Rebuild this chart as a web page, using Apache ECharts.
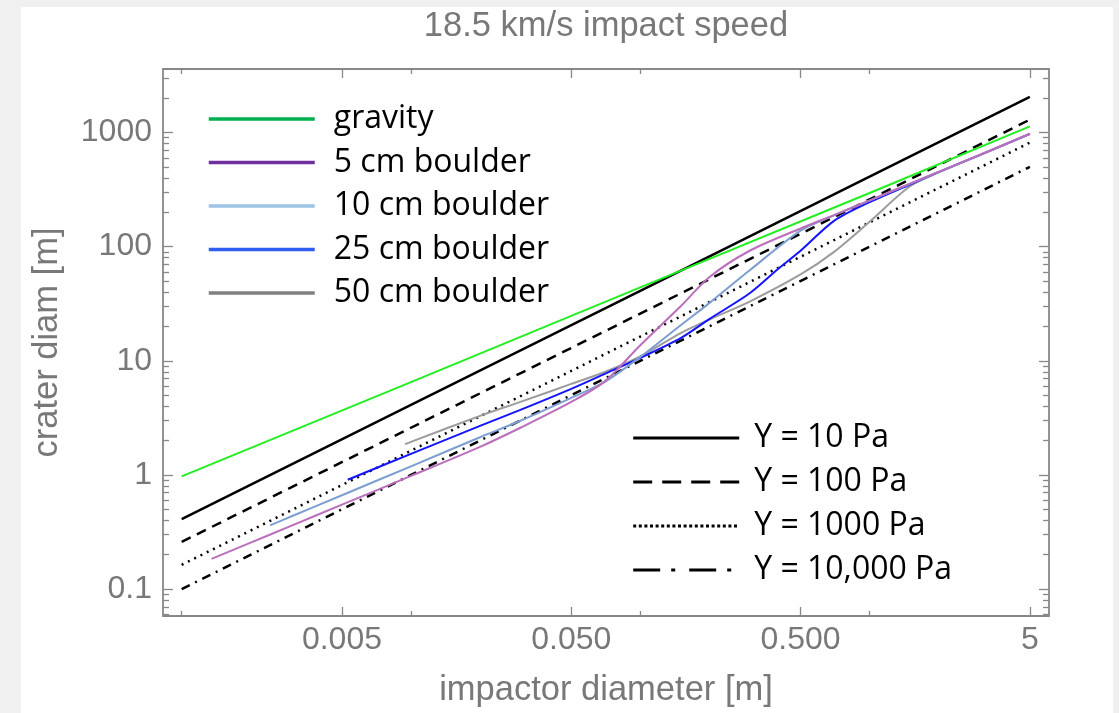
<!DOCTYPE html>
<html>
<head>
<meta charset="utf-8">
<title>18.5 km/s impact speed</title>
<script src="https://cdn.jsdelivr.net/npm/echarts@6.0.0/dist/echarts.min.js"></script>
<style>
  html, body { margin: 0; padding: 0; background: #f0f0f0; }
  #chart { position: absolute; left: 21px; top: 7px; width: 1092px; height: 706px; background: #fff; }
</style>
</head>
<body>
<div id="chart"></div>
<script>
// impactor diameter [m] vs crater diameter [m]
const lineX = [0.001, 0.01, 0.1, 1, 5];
const gravity = [0.97, 6.5, 44, 295, 1130];
const y10 = [0.41, 4.1, 41, 410, 2050];
const y100 = [0.259, 2.59, 25.9, 259, 1295];
const y1000 = [0.163, 1.63, 16.3, 163, 815];
const y10000 = [0.1, 1.0, 10, 100, 500];

const b5X = [0.00135, 0.002, 0.003, 0.005, 0.01, 0.02, 0.03, 0.05, 0.07, 0.1, 0.15, 0.2, 0.3, 0.5, 0.7, 1, 1.5, 2, 3, 5];
const b5Y = [0.184, 0.255, 0.358, 0.549, 0.98, 1.76, 2.59, 4.36, 6.6, 13.7, 30, 54, 92, 144, 189, 254, 356, 451, 631, 974];
const b10X = [0.00243, 0.003, 0.005, 0.01, 0.02, 0.03, 0.05, 0.07, 0.1, 0.15, 0.2, 0.3, 0.5, 0.7, 1, 1.5, 2, 3, 5];
const b10Y = [0.362, 0.432, 0.664, 1.19, 2.14, 2.98, 4.73, 6.53, 10.8, 20.5, 32, 62, 138, 188, 253, 355, 450, 630, 972];
const b25X = [0.0053, 0.01, 0.02, 0.03, 0.05, 0.07, 0.1, 0.15, 0.2, 0.3, 0.4, 0.5, 0.7, 1, 1.5, 2, 3, 5];
const b25Y = [0.908, 1.53, 2.69, 3.71, 5.67, 7.67, 10.6, 15.8, 23.2, 39, 64, 92, 168, 245, 350, 450, 630, 972];
const b50X = [0.00942, 0.01, 0.02, 0.03, 0.05, 0.07, 0.1, 0.15, 0.2, 0.3, 0.5, 0.7, 1, 1.5, 2, 3, 5];
const b50Y = [1.86, 1.95, 3.29, 4.36, 6.27, 7.98, 10.9, 17.5, 23, 33, 57, 90, 165, 338, 447, 629, 970];

const xTicks = [0.005, 0.05, 0.5, 5];
const xTickLabels = ['0.005', '0.050', '0.500', '5'];
const xMinorTicks = [0.001, 0.01, 0.1, 1];
const yTicks = [0.1, 1, 10, 100, 1000];
const yTickLabels = ['0.1', '1', '10', '100', '1000'];
const yMinorSteps = [2, 3, 4, 5, 6, 7, 8, 9];

// plot range (log10 of metres)
const X_MIN = Math.log10(0.000829), X_MAX = Math.log10(6.06);
const Y_MIN = Math.log10(0.0581), Y_MAX = Math.log10(3597);

const labelGray = '#787878';
const frameGray = '#888888';

const yMinorTicks = [];
for (let d = -2; d <= 3; d++) {
  yMinorSteps.forEach(m => {
    const v = d + Math.log10(m);
    if (v > Y_MIN && v < Y_MAX) yMinorTicks.push(Math.pow(10, v));
  });
}

function pairs(xs, ys) {
  return xs.map((x, i) => [Math.log10(x), Math.log10(ys[i])]);
}

function pickLabel(v, ticks, labels) {
  let best = 0;
  ticks.forEach((t, i) => {
    if (Math.abs(Math.log10(t) - v) < Math.abs(Math.log10(ticks[best]) - v)) best = i;
  });
  return labels[best];
}

function axis(kind, position, ticks, len, extra) {
  const isX = kind === 'x';
  return Object.assign({
    type: 'value',
    position: position,
    gridIndex: 0,
    min: isX ? X_MIN : Y_MIN,
    max: isX ? X_MAX : Y_MAX,
    axisLine: { show: false, onZero: false },
    splitLine: { show: false },
    axisTick: {
      show: true,
      inside: true,
      length: len,
      customValues: ticks.map(t => Math.log10(t)),
      lineStyle: { color: frameGray, width: 1.3 }
    },
    axisLabel: { show: false }
  }, extra || {});
}

const tickFont = { color: labelGray, fontFamily: 'Liberation Sans', fontSize: 32 };
const nameFont = { color: labelGray, fontFamily: 'Liberation Sans', fontSize: 34.5 };

const chart = echarts.init(document.getElementById('chart'));

chart.setOption({
  animation: false,
  backgroundColor: '#ffffff',
  title: {
    text: '18.5 km/s impact speed',
    left: 585,
    top: 2,
    padding: 0,
    textAlign: 'center',
    textStyle: Object.assign({ fontWeight: 'normal' }, nameFont)
  },
  grid: {
    left: 142,
    top: 62,
    width: 886,
    height: 547,
    containLabel: false,
    outerBoundsMode: 'none',
    show: true,
    borderColor: frameGray,
    borderWidth: 1.8,
    backgroundColor: 'transparent'
  },
  xAxis: [
    axis('x', 'bottom', xTicks, 9, {
      name: 'impactor diameter [m]',
      nameLocation: 'middle',
      nameGap: 57,
      nameTextStyle: nameFont,
      axisLabel: Object.assign({
        show: true,
        margin: 8,
        customValues: xTicks.map(t => Math.log10(t)),
        formatter: v => pickLabel(v, xTicks, xTickLabels)
      }, tickFont)
    }),
    axis('x', 'bottom', xMinorTicks, 5),
    axis('x', 'top', xTicks, 9),
    axis('x', 'top', xMinorTicks, 5)
  ],
  yAxis: [
    axis('y', 'left', yTicks, 10, {
      name: 'crater diam [m]',
      nameLocation: 'middle',
      nameGap: 98,
      nameTextStyle: nameFont,
      axisLabel: Object.assign({
        show: true,
        margin: 11,
        customValues: yTicks.map(t => Math.log10(t)),
        formatter: v => pickLabel(v, yTicks, yTickLabels)
      }, tickFont)
    }),
    axis('y', 'left', yMinorTicks, 6),
    axis('y', 'right', yTicks, 10),
    axis('y', 'right', yMinorTicks, 6)
  ],
  legend: [
    {
      orient: 'vertical',
      left: 186,
      top: 96,
      padding: 0,
      itemWidth: 106,
      itemHeight: 4,
      itemGap: 11.5,
      selectedMode: false,
      itemStyle: { opacity: 0 },
      textStyle: { fontFamily: 'Open Sans', fontSize: 32, color: '#000', lineHeight: 32, padding: [0, 0, 0, 14] },
      data: [
        { name: 'gravity', lineStyle: { color: '#00b050', width: 3.5, type: 'solid' } },
        { name: '5 cm boulder', lineStyle: { color: '#7030a0', width: 3.5, type: 'solid' } },
        { name: '10 cm boulder', lineStyle: { color: '#9dc3e6', width: 3.5, type: 'solid' } },
        { name: '25 cm boulder', lineStyle: { color: '#2f5df0', width: 3.5, type: 'solid' } },
        { name: '50 cm boulder', lineStyle: { color: '#7f7f7f', width: 3.5, type: 'solid' } }
      ]
    },
    {
      orient: 'vertical',
      left: 610.7,
      top: 415,
      padding: 0,
      itemWidth: 106,
      itemHeight: 4,
      itemGap: 12,
      selectedMode: false,
      itemStyle: { opacity: 0 },
      textStyle: { fontFamily: 'Open Sans', fontSize: 32, color: '#000', lineHeight: 32, padding: [0, 0, 0, 10] },
      data: [
        { name: 'Y = 10 Pa', lineStyle: { color: '#000', width: 3, type: 'solid' } },
        { name: 'Y = 100 Pa', lineStyle: { color: '#000', width: 3, type: [19, 10] } },
        { name: 'Y = 1000 Pa', lineStyle: { color: '#000', width: 3, type: [3, 2.6] } },
        { name: 'Y = 10,000 Pa', lineStyle: { color: '#000', width: 3, type: [27, 11, 4, 14] } }
      ]
    }
  ],
  series: [
    { name: 'Y = 10,000 Pa', type: 'line', data: pairs(lineX, y10000), symbol: 'none', itemStyle: { color: '#000' }, lineStyle: { color: '#000', width: 2.5, type: [9, 6, 2, 6] } },
    { name: 'Y = 1000 Pa', type: 'line', data: pairs(lineX, y1000), symbol: 'none', itemStyle: { color: '#000' }, lineStyle: { color: '#000', width: 2.5, type: [2, 5] } },
    { name: 'Y = 100 Pa', type: 'line', data: pairs(lineX, y100), symbol: 'none', itemStyle: { color: '#000' }, lineStyle: { color: '#000', width: 2.5, type: [10, 7] } },
    { name: 'Y = 10 Pa', type: 'line', data: pairs(lineX, y10), symbol: 'none', itemStyle: { color: '#000' }, lineStyle: { color: '#000', width: 2.5 } },
    { name: '50 cm boulder', type: 'line', data: pairs(b50X, b50Y), symbol: 'none', smooth: 0.3, itemStyle: { color: '#9c9c9c' }, lineStyle: { color: '#9c9c9c', width: 2 } },
    { name: '25 cm boulder', type: 'line', data: pairs(b25X, b25Y), symbol: 'none', smooth: 0.3, itemStyle: { color: '#1414ff' }, lineStyle: { color: '#1414ff', width: 2 } },
    { name: '10 cm boulder', type: 'line', data: pairs(b10X, b10Y), symbol: 'none', smooth: 0.3, itemStyle: { color: '#7c9ed0' }, lineStyle: { color: '#7c9ed0', width: 2 } },
    { name: '5 cm boulder', type: 'line', data: pairs(b5X, b5Y), symbol: 'none', smooth: 0.3, itemStyle: { color: '#bb6ebb' }, lineStyle: { color: '#bb6ebb', width: 2 } },
    { name: 'gravity', type: 'line', data: pairs(lineX, gravity), symbol: 'none', itemStyle: { color: '#22ee22' }, lineStyle: { color: '#22ee22', width: 2 } }
  ]
});
</script>
</body>
</html>
